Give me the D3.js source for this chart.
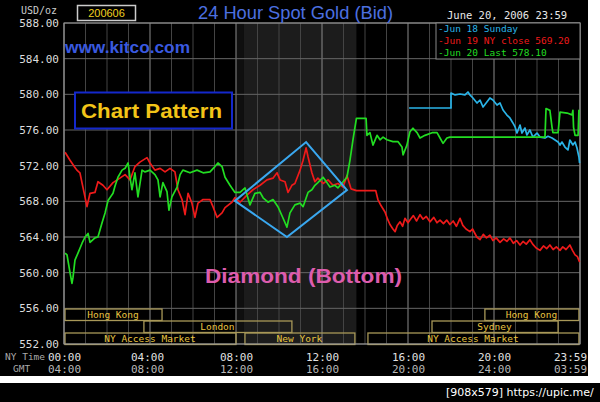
<!DOCTYPE html>
<html><head><meta charset="utf-8">
<script src="https://cdn.jsdelivr.net/npm/d3@7"></script>
<style>html,body{margin:0;padding:0;background:#fff;}svg{display:block}</style>
</head><body><svg id="c" width="600" height="402"></svg>
<script>
// ---------- DATA ----------
const yTicks = [552,556,560,564,568,572,576,580,584,588];
const xTickHours = [0,4,8,12,16,20,24];
const xTicksNY = ["00:00","04:00","08:00","12:00","16:00","20:00","23:59"];
const xTicksGMT = ["04:00","08:00","12:00","16:00","20:00","24:00","03:59"];

// Jun 18 Sunday (cyan) [hour, price]
const jun18 = [[16.05,578.47],[18.0,578.47],[18.0,580.15],[18.19,579.93],[18.42,580.04],[18.65,579.93],[18.79,580.26],[18.88,579.93],[19.02,579.59],[19.21,579.03],[19.35,579.36],[19.49,578.58],[19.67,579.14],[19.81,579.59],[19.95,579.36],[20.14,578.8],[20.28,579.03],[20.42,578.24],[20.6,577.68],[20.74,577.35],[20.88,576.79],[20.98,576.34],[21.07,575.66],[21.21,576.56],[21.3,575.66],[21.44,576.22],[21.53,575.44],[21.67,576.0],[21.81,575.21],[22.0,575.66],[22.14,575.21],[22.37,575.1],[22.51,575.3],[22.7,575.1],[22.84,574.88],[22.98,574.65],[23.07,574.32],[23.16,574.65],[23.3,574.09],[23.44,573.76],[23.53,574.88],[23.67,574.32],[23.77,574.65],[23.86,573.98],[23.95,572.97],[23.98,572.3]];

// Jun 19 NY close (red)
const jun19 = [[0.05,573.5],[0.28,572.6],[0.51,571.8],[0.6,571.5],[0.74,571.2],[0.88,569.6],[1.07,567.4],[1.21,568.9],[1.44,569.0],[1.58,570.2],[1.81,569.8],[2.0,569.3],[2.28,570.1],[2.6,570.6],[2.84,571.0],[3.07,570.4],[3.3,571.9],[3.53,572.4],[3.86,572.9],[4.0,572.3],[4.23,571.5],[4.47,571.7],[4.7,571.3],[4.93,571.7],[5.16,571.3],[5.3,569.3],[5.49,568.2],[5.63,566.5],[5.77,568.9],[5.95,567.8],[6.09,566.2],[6.23,567.8],[6.47,568.2],[6.79,568.2],[6.93,567.4],[7.12,566.2],[7.35,566.7],[7.49,567.3],[7.81,567.9],[7.95,568.4],[8.19,567.9],[8.51,568.7],[8.79,569.3],[9.12,569.8],[9.44,570.4],[9.72,570.6],[9.91,571.2],[10.05,570.4],[10.28,570.2],[10.42,569.0],[10.6,569.8],[10.74,570.0],[10.98,571.5],[11.12,572.6],[11.26,574.0],[11.35,573.0],[11.53,571.2],[11.67,570.2],[11.81,570.6],[12.05,570.0],[12.28,570.4],[12.51,569.8],[12.74,570.0],[12.98,569.6],[13.16,570.9],[13.35,569.4],[13.6,569.2],[14.5,569.2],[14.6,568.2],[14.75,567.5],[14.93,566.8],[15.05,566.0],[15.16,565.4],[15.3,564.9],[15.4,564.6],[15.5,565.3],[15.63,565.7],[15.75,565.2],[15.86,566.1],[16.0,565.6],[16.09,565.9],[16.25,566.4],[16.4,565.8],[16.56,566.5],[16.7,566.0],[16.85,566.3],[17.02,565.7],[17.2,566.2],[17.35,565.6],[17.49,565.9],[17.65,565.5],[17.8,565.9],[17.95,565.4],[18.1,565.8],[18.25,565.2],[18.42,566.1],[18.55,565.3],[18.7,564.9],[18.88,564.6],[19.0,564.9],[19.2,564.0],[19.35,563.7],[19.5,564.3],[19.65,563.9],[19.81,564.2],[19.95,563.6],[20.1,563.9],[20.28,563.4],[20.45,563.8],[20.6,563.5],[20.74,563.9],[20.9,563.3],[21.05,563.6],[21.21,563.1],[21.35,563.5],[21.5,563.2],[21.67,563.7],[21.8,563.2],[21.95,562.8],[22.14,562.5],[22.3,563.0],[22.45,562.7],[22.6,563.1],[22.75,562.6],[22.9,562.9],[23.07,562.5],[23.2,562.9],[23.35,562.6],[23.53,563.1],[23.65,562.5],[23.77,562.0],[23.88,561.8],[23.98,561.2]];

// Jun 20 Last (green)
const jun20 = [[0.05,562.2],[0.14,562.0],[0.28,560.0],[0.37,558.8],[0.42,559.5],[0.51,561.4],[0.65,562.2],[0.84,563.3],[0.98,564.0],[1.12,564.4],[1.21,563.4],[1.44,563.9],[1.58,564.0],[1.77,565.6],[1.91,566.7],[2.05,568.1],[2.28,568.9],[2.37,569.7],[2.51,570.7],[2.7,571.5],[2.84,571.7],[2.98,572.3],[3.07,570.7],[3.16,569.3],[3.3,571.2],[3.44,568.5],[3.63,571.5],[3.77,571.3],[4.0,571.5],[4.23,571.0],[4.37,570.4],[4.47,568.5],[4.6,570.1],[4.79,569.1],[4.88,567.0],[5.02,568.5],[5.26,569.6],[5.4,571.0],[5.53,571.5],[5.86,571.2],[6.19,571.5],[6.47,571.2],[6.79,571.3],[7.02,571.9],[7.16,572.3],[7.35,571.9],[7.49,570.7],[7.72,569.8],[7.95,569.0],[8.19,569.0],[8.42,569.5],[8.65,567.6],[8.88,568.9],[9.12,569.0],[9.26,568.4],[9.49,567.9],[9.72,568.2],[9.95,567.4],[10.19,566.1],[10.37,565.1],[10.51,566.7],[10.74,567.6],[10.98,567.8],[11.12,567.4],[11.35,569.0],[11.53,569.3],[11.67,569.8],[11.81,570.1],[12.05,570.7],[12.23,570.1],[12.37,569.6],[12.6,569.8],[12.74,569.5],[12.98,570.2],[13.16,570.7],[13.3,572.6],[13.44,574.9],[13.6,577.3],[14.05,577.3],[14.09,575.4],[14.23,575.7],[14.37,574.3],[14.56,575.4],[14.7,574.9],[14.84,575.2],[15.02,574.9],[15.3,574.7],[15.53,574.7],[15.72,574.1],[15.77,573.2],[15.95,574.3],[16.09,575.8],[16.23,576.2],[16.42,575.7],[16.56,575.1],[16.79,575.4],[17.12,575.7],[17.35,575.7],[17.49,575.1],[17.63,574.5],[17.81,575.1],[17.95,575.2],[22.37,575.2],[22.42,578.4],[22.6,578.2],[22.7,576.3],[22.74,575.7],[22.98,575.7],[23.07,578.0],[23.4,577.9],[23.63,577.7],[23.67,578.2],[23.7,576.3],[23.77,575.4],[23.91,575.4],[23.95,578.2],[23.98,578.1]];

// Market sessions (row, label, start hour, end hour)
const sessionRows = [0,0,1,1,2,2,2];
const sessionNames = ["Hong Kong","Hong Kong","London","Sydney","NY Access Market","New York","NY Access Market"];
const sessionStart = [0,19.53,3.67,17.07,0,8.37,14.09];
const sessionEnd = [4.56,23.95,10.6,22.98,8.0,13.53,23.95];

// Diamond pattern vertices [hour, price]
const diamond = [[7.95,568.05],[11.26,574.65],[13.16,569.27],[10.37,564.0]];

const legendLabels = ["-Jun 18 Sunday","-Jun 19 NY close 569.20","-Jun 20 Last 578.10"];
const legendColors = ["#2ab4e8","#ee1a1a","#22dd22"];

// ---------- DRAW ----------
const svg = d3.select("#c");
const mono = "'DejaVu Sans Mono', monospace";
const sans = "'Liberation Sans', Arial, sans-serif";

svg.append("rect").attr("width",600).attr("height",402).attr("fill","#fff");
svg.append("rect").attr("x",0).attr("y",0).attr("width",588).attr("height",376).attr("fill","#000");
svg.append("rect").attr("x",0).attr("y",383).attr("width",600).attr("height",19).attr("fill","#000");

const x = d3.scaleLinear().domain([0,24]).range([64,580]);
const y = d3.scaleLinear().domain([552,588]).range([344,23]);

// NY session shaded band
svg.append("rect").attr("x",x(8.0)).attr("y",y(588)).attr("width",x(8.37)-x(8.0)).attr("height",y(552)-y(588)).attr("fill","#0f0f0f");
svg.append("rect").attr("x",x(8.37)).attr("y",y(588)).attr("width",x(13.6)-x(8.37)).attr("height",y(552)-y(588)).attr("fill","#1c1c1c");

// grid
const hours = d3.range(0,25);
svg.append("g").selectAll("line").data(hours).join("line")
  .attr("x1",d=>x(d)).attr("x2",d=>x(d)).attr("y1",y(588)).attr("y2",y(552))
  .attr("stroke",d=>d%4===0?"#8a8a8a":"#444").attr("stroke-width",1);
svg.append("g").selectAll("line").data(yTicks).join("line")
  .attr("x1",x(0)).attr("x2",x(24)).attr("y1",d=>y(d)).attr("y2",d=>y(d))
  .attr("stroke",d=>d===564?"#8a8a8a":"#666").attr("stroke-width",1);

// sessions
const rowTop = [309,321,333], rowH = 11.5;
const sg = svg.append("g");
sessionNames.forEach((n,i)=>{
  const r = sessionRows[i];
  sg.append("rect").attr("x",x(sessionStart[i])+1).attr("y",rowTop[r]).attr("width",x(sessionEnd[i])-x(sessionStart[i])-1).attr("height",rowH)
    .attr("fill","none").attr("stroke","#a89858").attr("stroke-width",1.3);
  sg.append("text").attr("x",(x(sessionStart[i])+x(sessionEnd[i]))/2).attr("y",rowTop[r]+rowH/2).attr("dy","0.35em")
    .attr("text-anchor","middle").attr("font-family",mono).attr("font-size",9.5).attr("fill","#e8c440").text(n);
});

// frame
svg.append("rect").attr("x",x(0)).attr("y",y(588)).attr("width",x(24)-x(0)).attr("height",y(552)-y(588))
  .attr("fill","none").attr("stroke","#999").attr("stroke-width",1);

// y axis
const ya = svg.append("g").attr("transform",`translate(${x(0)},0)`)
  .call(d3.axisLeft(y).tickValues(yTicks).tickFormat(d=>d.toFixed(2)).tickSize(0).tickPadding(5));
ya.select(".domain").remove();
ya.selectAll("text").attr("font-family",mono).attr("font-size",11).attr("fill","#ddd");

// x axes
function xAxis(labels, yy, col){
  const g = svg.append("g").attr("transform",`translate(0,${yy})`)
    .call(d3.axisBottom(x).tickValues(xTickHours).tickFormat((d,i)=>labels[i]).tickSize(0).tickPadding(0));
  g.select(".domain").remove();
  g.selectAll("text").attr("y",0).attr("dy","0.35em").attr("font-family",mono).attr("font-size",11).attr("fill",col)
    .attr("dx",(d,i)=>i===labels.length-1?-10:(i===1?-3:0));
}
xAxis(xTicksNY,357,"#e0e0e0");
xAxis(xTicksGMT,369,"#b8b8b8");
svg.append("text").attr("x",5).attr("y",357).attr("dy","0.35em").attr("font-family",mono).attr("font-size",9.5).attr("fill","#aaa").text("NY Time");
svg.append("text").attr("x",13).attr("y",369).attr("dy","0.35em").attr("font-family",mono).attr("font-size",9.5).attr("fill","#aaa").text("GMT");

// series
const line = d3.line().x(d=>x(d[0])).y(d=>y(d[1]));
[[jun18,legendColors[0]],[jun19,legendColors[1]],[jun20,legendColors[2]]].forEach(([s,c])=>{
  svg.append("path").datum(s).attr("d",line).attr("fill","none").attr("stroke",c).attr("stroke-width",1.7).attr("stroke-linejoin","round");
});

// diamond
svg.append("path").datum(diamond).attr("d",d3.line().x(d=>x(d[0])).y(d=>y(d[1])).curve(d3.curveLinearClosed))
  .attr("fill","none").attr("stroke","#3aa8f0").attr("stroke-width",2);

// legend
svg.append("rect").attr("x",436).attr("y",23).attr("width",144).attr("height",36).attr("fill","#000").attr("stroke","#888").attr("stroke-width",1);
legendLabels.forEach((l,i)=>{
  svg.append("text").attr("x",438).attr("y",29+i*12).attr("dy","0.35em").attr("font-family",mono).attr("font-size",9.5)
    .attr("fill",legendColors[i]).text(l);
});

// header
svg.append("text").attr("x",21).attr("y",10).attr("dy","0.35em").attr("font-family",mono).attr("font-size",10).attr("fill","#ccc").text("USD/oz");
svg.append("rect").attr("x",77.5).attr("y",5.5).attr("width",58).attr("height",15).attr("fill","#000").attr("stroke","#ccc").attr("stroke-width",1.5);
svg.append("text").attr("x",106.5).attr("y",13).attr("dy","0.35em").attr("text-anchor","middle").attr("font-family",sans).attr("font-size",11).attr("fill","#f0d020").text("200606");
svg.append("text").attr("x",198).attr("y",19).attr("font-family",sans).attr("font-size",18).attr("fill","#4c70e0")
  .attr("textLength",195).attr("lengthAdjust","spacingAndGlyphs").text("24 Hour Spot Gold (Bid)");
svg.append("text").attr("x",447).attr("y",15).attr("dy","0.35em").attr("font-family",mono).attr("font-size",10.5).attr("fill","#e8e8e8").text("June 20, 2006 23:59");
svg.append("text").attr("x",65).attr("y",53).attr("font-family",sans).attr("font-weight","bold").attr("font-size",17).attr("fill","#3a5ae0")
  .attr("textLength",125).attr("lengthAdjust","spacingAndGlyphs").text("www.kitco.com");

// annotations
svg.append("rect").attr("x",75).attr("y",92.5).attr("width",157).attr("height",36).attr("fill","#000").attr("stroke","#1428cc").attr("stroke-width",2);
svg.append("text").attr("x",81).attr("y",118).attr("font-family",sans).attr("font-weight","bold").attr("font-size",21).attr("fill","#f2c418")
  .attr("textLength",141).attr("lengthAdjust","spacingAndGlyphs").text("Chart Pattern");
svg.append("text").attr("x",205).attr("y",283).attr("font-family",sans).attr("font-weight","bold").attr("font-size",21).attr("fill","#dd5cad")
  .attr("textLength",197).attr("lengthAdjust","spacingAndGlyphs").text("Diamond (Bottom)");

// watermark
svg.append("text").attr("x",446).attr("y",396).attr("font-family","'DejaVu Sans', sans-serif").attr("font-size",11).attr("fill","#fff")
  .text("[908x579] https://upic.me/");
</script></body></html>
